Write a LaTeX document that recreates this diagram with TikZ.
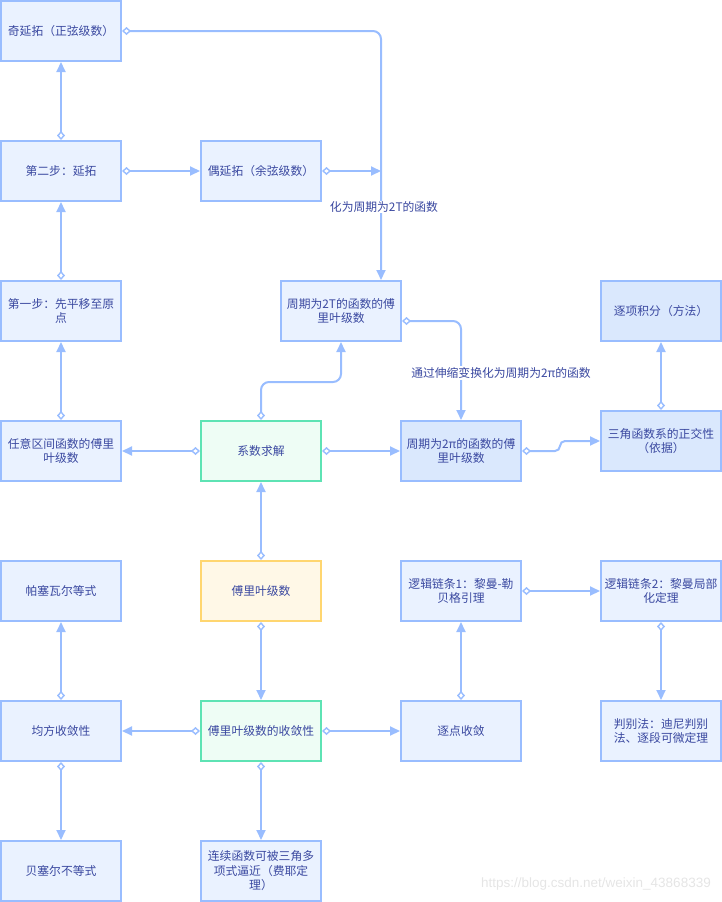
\documentclass[tikz,border=0pt]{standalone}
\usepackage{fontspec}
\setmainfont{Noto Sans CJK SC}
\newfontfamily\urlfont{Liberation Sans}
\usetikzlibrary{arrows.meta,calc}

\definecolor{edgeblue}{HTML}{99BDFF}
\definecolor{boxfill}{HTML}{EAF2FF}
\definecolor{boxfilldark}{HTML}{DAE8FD}
\definecolor{greenline}{HTML}{5EE3B4}
\definecolor{greenfill}{HTML}{EEFDF5}
\definecolor{yellowline}{HTML}{FFD670}
\definecolor{yellowfill}{HTML}{FFF8E7}
\definecolor{inktext}{HTML}{3A48A0}

\tikzset{
  x=1pt, y=-1pt,
  box/.style={draw=edgeblue, fill=boxfill, line width=2pt,
    minimum width=120pt, minimum height=60pt, inner sep=2pt,
    align=center, text=inktext, font=\fontsize{11.8}{14.5}\selectfont},
  darkbox/.style={box, fill=boxfilldark},
  greenbox/.style={box, draw=greenline, fill=greenfill},
  yellowbox/.style={box, draw=yellowline, fill=yellowfill},
  link/.style={draw=edgeblue, line width=2pt, rounded corners=8pt,
    {Diamond[fill=white, length=9pt, width=8pt, line width=1.4pt]}-{Triangle[length=10pt, width=9pt]}},
  linklabel/.style={fill=white, inner sep=1pt, text=inktext,
    font=\fontsize{11.8}{14.5}\selectfont},
}

\begin{document}
\begin{tikzpicture}
\useasboundingbox (0,0) rectangle (722,902);

% column 1
\node[box] (odd)    at (61,31)  {奇延拓（正弦级数）};
\node[box] (step2)  at (61,171) {第二步：延拓};
\node[box] (step1)  at (61,311) {第一步：先平移至原\\点};
\node[box] (anyint) at (61,451) {任意区间函数的傅里\\叶级数};
\node[box] (parsev) at (61,591) {帕塞瓦尔等式};
\node[box] (meansq) at (61,731) {均方收敛性};
\node[box] (bessel) at (61,871) {贝塞尔不等式};

% column 2
\node[box]       (even)   at (261,171) {偶延拓（余弦级数）};
\node[box]       (per2T)  at (341,311) {周期为2T的函数的傅\\里叶级数};
\node[greenbox]  (coef)   at (261,451) {系数求解};
\node[yellowbox] (fourier) at (261,591) {傅里叶级数};
\node[greenbox]  (conv)   at (261,731) {傅里叶级数的收敛性};
\node[box]       (fejer)  at (261,871) {连续函数可被三角多\\项式逼近（费耶定\\理）};

% column 3
\node[darkbox] (per2pi) at (461,451) {周期为2π的函数的傅\\里叶级数};
\node[box]     (chain1) at (461,591) {逻辑链条1：黎曼-勒\\贝格引理};
\node[box]     (pointw) at (461,731) {逐点收敛};

% column 4
\node[darkbox] (termint) at (661,311) {逐项积分（方法）};
\node[darkbox] (orth)    at (661,441) {三角函数系的正交性\\（依据）};
\node[box]     (chain2)  at (661,591) {逻辑链条2：黎曼局部\\化定理};
\node[box]     (criter)  at (661,731) {判别法：迪尼判别\\法、逐段可微定理};

% auxiliary points on the descent into the 2T box
\coordinate (drop) at ([xshift=40pt]per2T.north);
\coordinate (join) at (drop |- even.east);

% connectors
\draw[link] (step2.north) -- (odd.south);
\draw[link] (step2.east) -- (even.west);
\draw[link] (odd.east) -| (drop);
\draw[link] (even.east) -- (join);
\draw[link] (step1.north) -- (step2.south);
\draw[link] (anyint.north) -- (step1.south);
\draw[link] (coef.west) -- (anyint.east);
\draw[link] (coef.north) |- ([yshift=-40pt]per2T.south) -- (per2T.south);
\draw[link] (coef.east) -- (per2pi.west);
\draw[link] ([yshift=-10pt]per2T.east) -| (per2pi.north);
\draw[link, rounded corners=5pt] (per2pi.east) -| ([xshift=-40pt]orth.west) -- (orth.west);
\draw[link] (orth.north) -- (termint.south);
\draw[link] (fourier.north) -- (coef.south);
\draw[link] (fourier.south) -- (conv.north);
\draw[link] (conv.west) -- (meansq.east);
\draw[link] (conv.east) -- (pointw.west);
\draw[link] (meansq.north) -- (parsev.south);
\draw[link] (meansq.south) -- (bessel.north);
\draw[link] (conv.south) -- (fejer.north);
\draw[link] (pointw.north) -- (chain1.south);
\draw[link] (chain1.east) -- (chain2.west);
\draw[link] (chain2.south) -- (criter.north);

% edge labels
\node[linklabel] (lab2T) at (384,207) {化为周期为2T的函数};
\node[linklabel] (lab2pi) at (501,373) {通过伸缩变换化为周期为2π的函数};

% watermark
\node[text=black!10, font=\urlfont\fontsize{13.5}{16}\selectfont, anchor=east, inner sep=0pt]
  (mark) at (711,884) {https://blog.csdn.net/weixin\_43868339};
\end{tikzpicture}
\end{document}
